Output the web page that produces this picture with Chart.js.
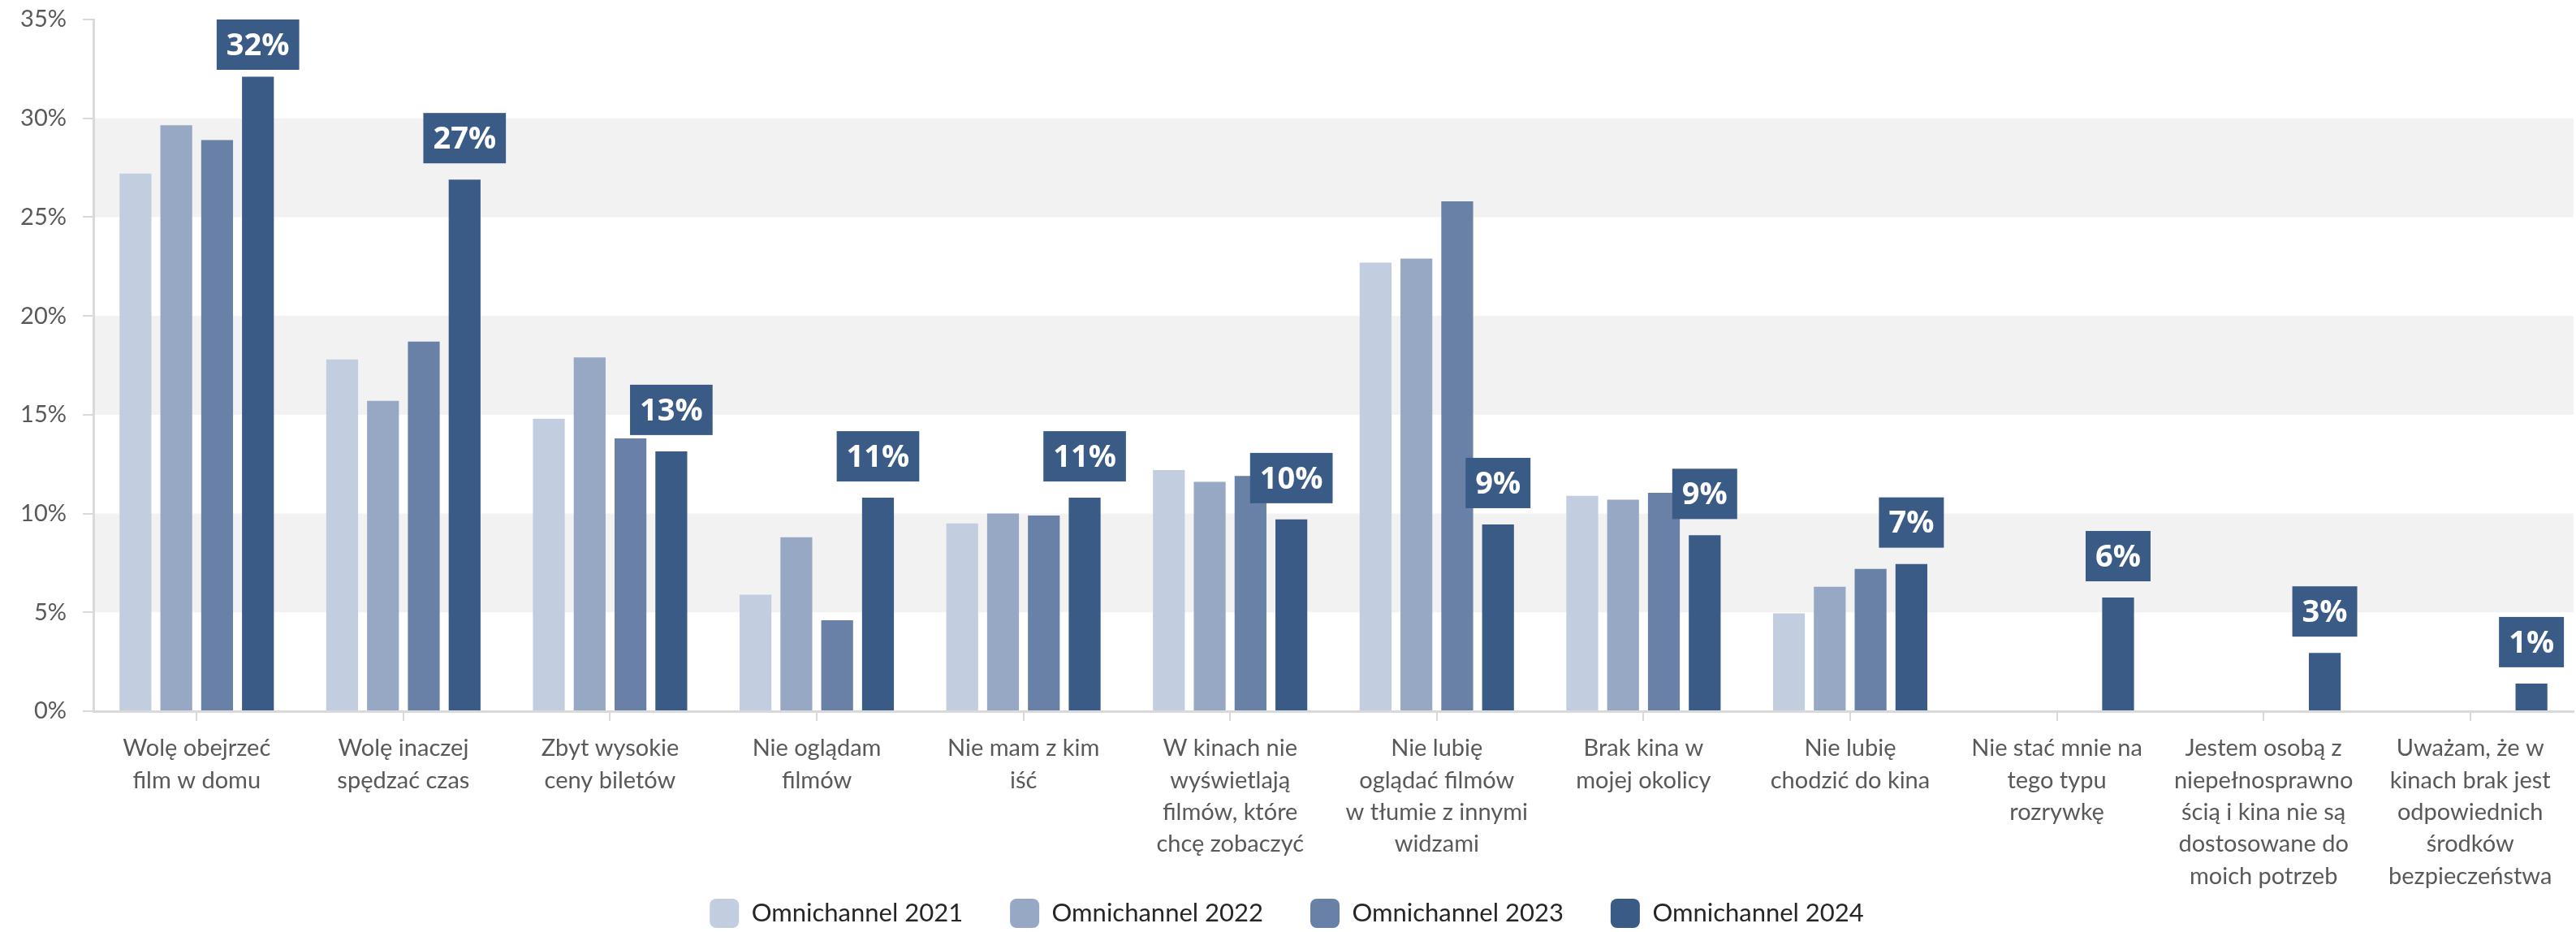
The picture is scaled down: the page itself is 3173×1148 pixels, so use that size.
<!DOCTYPE html>
<html>
<head>
<meta charset="utf-8">
<script src="https://cdn.jsdelivr.net/npm/chart.js@4"></script>
<style>
  html, body { margin: 0; padding: 0; background: #fff; }
  #wrap { width: 3173px; height: 1148px; }
</style>
</head>
<body>
<div id="wrap"><canvas id="showchart" width="3173" height="1148"></canvas></div>
<script>
// reasons for not going to the cinema, share of answers per survey wave
var categories = [
	["Wolę obejrzeć", "film w domu"],
	["Wolę inaczej", "spędzać czas"],
	["Zbyt wysokie", "ceny biletów"],
	["Nie oglądam", "filmów"],
	["Nie mam z kim", "iść"],
	["W kinach nie", "wyświetlają", "filmów, które", "chcę zobaczyć"],
	["Nie lubię", "oglądać filmów", "w tłumie z innymi", "widzami"],
	["Brak kina w", "mojej okolicy"],
	["Nie lubię", "chodzić do kina"],
	["Nie stać mnie na", "tego typu", "rozrywkę"],
	["Jestem osobą z", "niepełnosprawno", "ścią i kina nie są", "dostosowane do", "moich potrzeb"],
	["Uważam, że w", "kinach brak jest", "odpowiednich", "środków", "bezpieczeństwa"]
];
var seriesNames = ["Omnichannel 2021", "Omnichannel 2022", "Omnichannel 2023", "Omnichannel 2024"];
var values2021 = [27.2, 17.8, 14.8, 5.9, 9.5, 12.2, 22.7, 10.9, 4.95, null, null, null];
var values2022 = [29.65, 15.7, 17.9, 8.8, 10.0, 11.6, 22.9, 10.7, 6.3, null, null, null];
var values2023 = [28.9, 18.7, 13.8, 4.6, 9.9, 11.9, 25.8, 11.05, 7.2, null, null, null];
var values2024 = [32.1, 26.9, 13.15, 10.8, 10.8, 9.7, 9.45, 8.9, 7.45, 5.75, 2.95, 1.4];
var yTicks = [0, 5, 10, 15, 20, 25, 30, 35];

var colors = ['#c3cde0', '#97a8c4', '#6981a6', '#3b5b87'];
var allValues = [values2021, values2022, values2023, values2024];

var datasets = [];
for (var i in allValues) {
	datasets.push({
		label: seriesNames[i],
		data: allValues[i],
		backgroundColor: colors[i],
		borderWidth: 0,
		categoryPercentage: 0.79,
		barPercentage: 0.78
	});
}

// light grey bands behind every other 5% step
var bandsPlugin = {
	id: 'bands',
	beforeDatasetsDraw: function(chart) {
		var ctx = chart.ctx, area = chart.chartArea, y = chart.scales.y;
		ctx.save();
		ctx.fillStyle = '#f2f2f2';
		for (var k = 1; k < yTicks.length - 1; k += 2) {
			var top = y.getPixelForValue(yTicks[k + 1]);
			var bottom = y.getPixelForValue(yTicks[k]);
			ctx.fillRect(area.left + 2, top, area.right - area.left - 2, bottom - top);
		}
		ctx.restore();
	}
};

// long category names run down past the axis box, legend row sits at the very bottom
var bottomRows = {
	id: 'bottomRows',
	afterLayout: function(chart) {
		var x = chart.scales.x, lg = chart.legend;
		x.bottom = chart.height;
		var dy = 1107 - (lg.top + lg.options.labels.padding);
		lg.top += dy;
		lg.bottom += dy;
	}
};

// value boxes above the 2024 bars
var boxLabels = {
	id: 'boxLabels',
	afterDatasetsDraw: function(chart) {
		var ctx = chart.ctx, area = chart.chartArea;
		var meta = chart.getDatasetMeta(3);
		ctx.save();
		ctx.font = 'bold 38px "Open Sans"';
		ctx.textAlign = 'center';
		ctx.textBaseline = 'middle';
		meta.data.forEach(function(bar, idx) {
			var v = values2024[idx];
			if (v == null) return;
			var txt = Math.round(v) + '%';
			var w = ctx.measureText(txt).width + 24;
			var h = 62;
			var top = bar.y - 20 - h;
			if (top < area.top) top = area.top;
			ctx.fillStyle = '#3b5b87';
			ctx.fillRect(bar.x - w / 2, top, w, h);
			ctx.fillStyle = '#ffffff';
			ctx.fillText(txt, bar.x, top + h / 2 + 2);
		});
		ctx.restore();
	}
};

var ctx = document.getElementById('showchart');
var barGraph = new Chart(ctx, {
	type: 'bar',
	data: {
		labels: categories,
		datasets: datasets
	},
	options: {
		responsive: false,
		animation: false,
		layout: { padding: { top: 24, right: 3, left: 0, bottom: 0 } },
		plugins: {
			tooltip: { enabled: false },
			legend: {
				position: 'bottom',
				labels: {
					font: { family: 'Lato', size: 31 },
					color: '#262626',
					boxWidth: 36,
					boxHeight: 36,
					useBorderRadius: true,
					borderRadius: 8,
					padding: 58
				}
			}
		},
		scales: {
			x: {
				grid: {
					offset: false,
					drawOnChartArea: false,
					color: '#d9d9d9',
					lineWidth: 2,
					tickLength: 12
				},
				border: { color: '#d9d9d9', width: 3 },
				ticks: {
					font: { family: 'Lato', size: 29, lineHeight: 1.36 },
					color: '#595959',
					maxRotation: 0,
					autoSkip: false,
					padding: 14
				},
				afterFit: function(scale) { scale.height = 168; }
			},
			y: {
				min: 0,
				max: 35,
				grid: {
					drawOnChartArea: false,
					color: '#d9d9d9',
					lineWidth: 2,
					tickLength: 13
				},
				border: { color: '#d9d9d9', width: 3 },
				ticks: {
					stepSize: 5,
					font: { family: 'Lato', size: 29 },
					color: '#595959',
					padding: 20,
					callback: function(v) { return v + '%'; }
				},
				afterFit: function(scale) {
					scale.width = 115;
					scale.paddingTop = 0;
				}
			}
		}
	},
	plugins: [bandsPlugin, bottomRows, boxLabels]
});
</script>
</body>
</html>
